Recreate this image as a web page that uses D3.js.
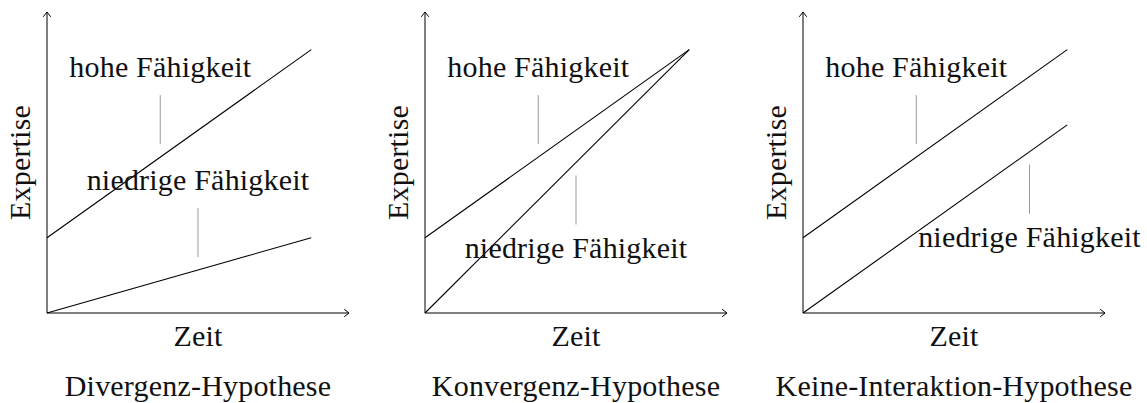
<!DOCTYPE html>
<html>
<head>
<meta charset="utf-8">
<script src="https://cdn.jsdelivr.net/npm/d3@7"></script>
<style>
  body { margin: 0; background: #fff; }
  text { font-family: "Liberation Serif", "Times New Roman", serif; font-size: 30px; fill: #111; letter-spacing: 0.2px; }
</style>
</head>
<body>
<script>
// panel titles and axis labels
const titles = ["Divergenz-Hypothese", "Konvergenz-Hypothese", "Keine-Interaktion-Hypothese"];
const xLabel = "Zeit";
const yLabel = "Expertise";
const highLabel = "hohe Fähigkeit";
const lowLabel = "niedrige Fähigkeit";

// time points (start, end) and expertise values per panel
const time = [0, 7];
const highValues = [[2, 7], [2, 7], [2, 7]];
const lowValues = [[0, 2], [0, 7], [0, 5]];

// where the pins sit on the lines (time value) and which side the label goes
const highPinAt = [3, 3, 3];
const lowPinAt = [4, 4, 6];
const lowPinSide = ["above", "below", "below"];

const axisMax = 8;

const width = 1147, height = 403;
const margin = ({ top: 12, bottom: 90 });
const panelLeft = [47, 425, 803];
const panelWidth = 302;

const svg = d3.select("body")
  .append("svg")
  .attr("width", width)
  .attr("height", height);

const arrowHead = (g, x, y, dir) => {
  // small open chevron like tikz "->"
  const p = dir === "up"
    ? [[x - 3.5, y + 4.5], [x, y], [x + 3.5, y + 4.5]]
    : [[x - 4.5, y - 3.5], [x, y], [x - 4.5, y + 3.5]];
  g.append("path")
    .attr("d", d3.line()(p))
    .attr("fill", "none")
    .attr("stroke", "#000")
    .attr("stroke-width", 1)
    .attr("stroke-linejoin", "round")
    .attr("stroke-linecap", "round");
};

titles.forEach((title, i) => {
  const x = d3.scaleLinear()
    .domain([0, axisMax])
    .range([panelLeft[i], panelLeft[i] + panelWidth]);
  const y = d3.scaleLinear()
    .domain([0, axisMax])
    .range([height - margin.bottom, margin.top]);

  const g = svg.append("g");

  // axes
  g.append("line")
    .attr("x1", x(0)).attr("x2", x(axisMax))
    .attr("y1", y(0)).attr("y2", y(0))
    .attr("stroke", "#000").attr("stroke-width", 1);
  g.append("line")
    .attr("x1", x(0)).attr("x2", x(0))
    .attr("y1", y(0)).attr("y2", y(axisMax))
    .attr("stroke", "#000").attr("stroke-width", 1);
  arrowHead(g, x(axisMax), y(0), "right");
  arrowHead(g, x(0), y(axisMax), "up");

  // lines
  const line = d3.line().x(d => x(d[0])).y(d => y(d[1]));
  [highValues[i], lowValues[i]].forEach(vals => {
    g.append("path")
      .attr("d", line(d3.zip(time, vals)))
      .attr("fill", "none")
      .attr("stroke", "#000")
      .attr("stroke-width", 1.1);
  });

  // pins
  const pin = (vals, at, side, label) => {
    const v = d3.scaleLinear().domain(time).range(vals)(at);
    const px = x(at), py = y(v);
    const s = side === "above" ? -1 : 1;
    const a = py + s * 13, b = py + s * 62;
    g.append("line")
      .attr("x1", px).attr("x2", px)
      .attr("y1", a).attr("y2", b)
      .attr("stroke", "#999").attr("stroke-width", 1);
    g.append("text")
      .attr("x", px)
      .attr("y", side === "above" ? b - 18 : b + 33)
      .attr("text-anchor", "middle")
      .text(label);
  };
  pin(highValues[i], highPinAt[i], "above", highLabel);
  pin(lowValues[i], lowPinAt[i], lowPinSide[i], lowLabel);

  // axis labels
  const mid = (x(0) + x(axisMax)) / 2;
  g.append("text")
    .attr("x", mid)
    .attr("y", 346)
    .attr("text-anchor", "middle")
    .text(xLabel);
  g.append("text")
    .attr("transform", `translate(${x(0) - 17},${(y(0) + y(axisMax)) / 2}) rotate(-90)`)
    .attr("text-anchor", "middle")
    .text(yLabel);

  // title
  g.append("text")
    .attr("x", mid)
    .attr("y", 396)
    .attr("text-anchor", "middle")
    .text(title);
});
</script>
</body>
</html>
